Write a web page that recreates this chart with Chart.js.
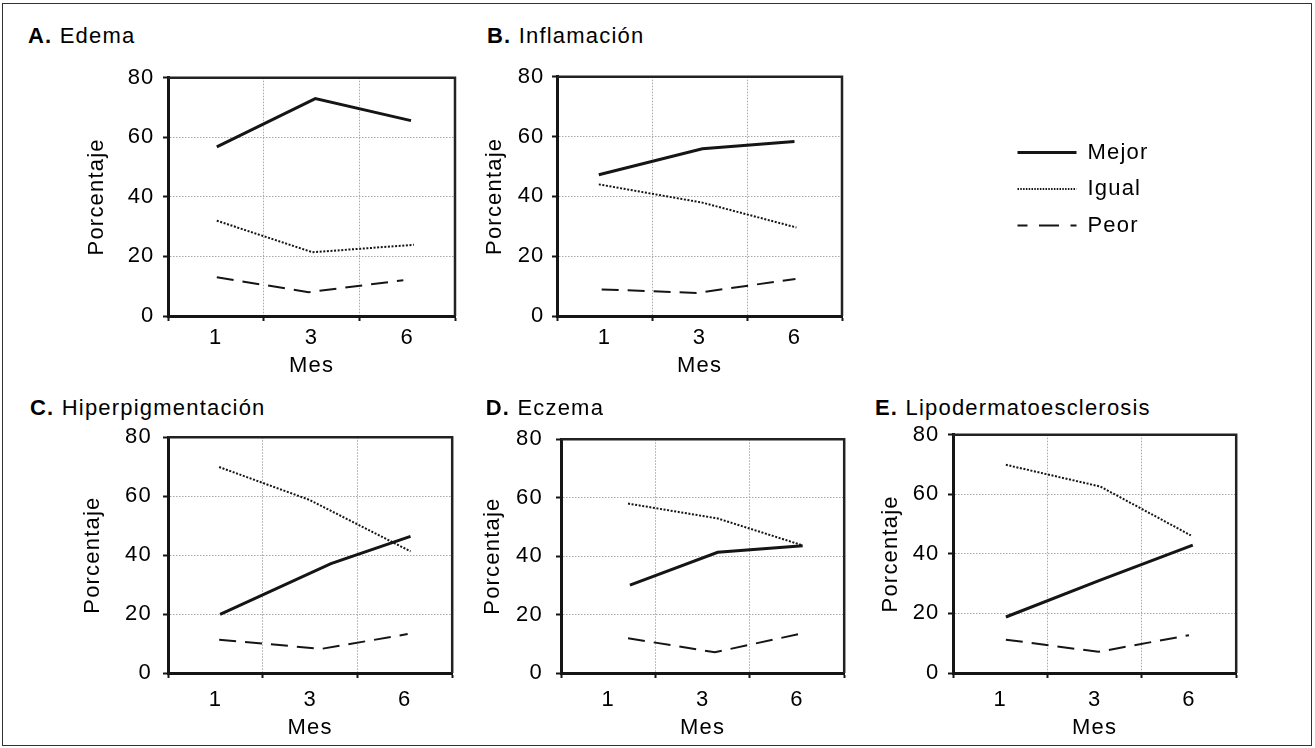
<!DOCTYPE html>
<html><head><meta charset="utf-8">
<script src="https://cdn.jsdelivr.net/npm/chart.js@4.4.1/dist/chart.umd.min.js"></script>
<style>
html,body{margin:0;padding:0;background:#fff;}
body{width:1315px;height:748px;position:relative;overflow:hidden;font-family:"Liberation Sans",Arial,Helvetica,sans-serif;}
.frame{position:absolute;left:2px;top:3px;width:1310px;height:743px;border:1px solid #333;box-sizing:border-box;}
.ttl{position:absolute;font-size:22px;line-height:22px;letter-spacing:1.2px;color:#000;white-space:nowrap;}
canvas{position:absolute;}
</style></head><body>
<div class="frame"></div>
<script>
// ---------- data ----------
const monthLabels = ['1', '3', '6'];
const yTickValues = [0, 20, 40, 60, 80];
const seriesNames = ['Mejor', 'Igual', 'Peor'];
const panelLetters = ['A.', 'B.', 'C.', 'D.', 'E.'];
const panelNames = ['Edema', 'Inflamación', 'Hiperpigmentación', 'Eczema', 'Lipodermatoesclerosis'];
const xAxisTitle = 'Mes';
const yAxisTitle = 'Porcentaje';

// x = position inside the month bands (0-1 = mes 1, 1-2 = mes 3, 2-3 = mes 6); values in %
const edemaMejorX = [0.51, 1.54, 2.54];   const edemaMejor = [56.8, 73.0, 65.6];
const edemaIgualX = [0.51, 1.51, 2.57];   const edemaIgual = [32.0, 21.4, 23.9];
const edemaPeorX  = [0.51, 1.47, 2.46];   const edemaPeor  = [13.0, 8.0, 12.0];

const inflamMejorX = [0.44, 1.53, 2.50];  const inflamMejor = [47.2, 55.9, 58.3];
const inflamIgualX = [0.44, 1.53, 2.52];  const inflamIgual = [44.0, 37.9, 29.6];
const inflamPeorX  = [0.47, 1.47, 2.51];  const inflamPeor  = [8.9, 7.7, 12.4];

const hiperMejorX = [0.55, 1.72, 2.56];   const hiperMejor = [19.9, 37.1, 46.4];
const hiperIgualX = [0.54, 1.49, 2.56];   const hiperIgual = [69.9, 58.8, 41.3];
const hiperPeorX  = [0.54, 1.62, 2.53];   const hiperPeor  = [11.3, 8.2, 13.2];

const eczemaMejorX = [0.73, 1.66, 2.56];  const eczemaMejor = [30.1, 41.3, 43.6];
const eczemaIgualX = [0.71, 1.66, 2.55];  const eczemaIgual = [58.0, 52.9, 43.8];
const eczemaPeorX  = [0.71, 1.63, 2.56];  const eczemaPeor  = [11.9, 7.1, 13.6];

const lipoMejorX = [0.56, 1.56, 2.54];    const lipoMejor = [18.8, 31.2, 42.9];
const lipoIgualX = [0.56, 1.56, 2.52];    const lipoIgual = [69.9, 62.6, 46.2];
const lipoPeorX  = [0.56, 1.54, 2.50];    const lipoPeor  = [11.2, 7.1, 12.7];

// ---------- styles / layout ----------
const FS = 22, HALF_LH = FS * 1.2 / 2, LS_PX = 1.2;
Chart.defaults.font.family = '"Liberation Sans", Arial, Helvetica, sans-serif';
Chart.defaults.font.size = FS;
Chart.defaults.color = '#000';

const INK = '#151515';
const seriesStyles = [
  {borderWidth: 3, borderDash: []},
  {borderWidth: 2, borderDash: [2, 1.6]},
  {borderWidth: 2, borderDash: [17, 9]}
];
const legendStyles = [
  {lineWidth: 3, lineDash: [], lineDashOffset: 0},
  {lineWidth: 2, lineDash: [1.5, 1.3], lineDashOffset: 0},
  {lineWidth: 2, lineDash: [20, 11.5], lineDashOffset: 10}
];

const rows = [
  {t: 76, b: 316, canvasBottom: 390, labelCenter: 337.5, titleCenter: 366, titleTop: 25.4},
  {t: 433, b: 673, canvasBottom: 746, labelCenter: 700, titleCenter: 728, titleTop: 397.4}
];

const panels = [
  {row: 0, l: 168, r: 455, titleX: 28,    yTitleX: 96.7,  yLabelRight: 153.3,
   series: [[edemaMejorX, edemaMejor], [edemaIgualX, edemaIgual], [edemaPeorX, edemaPeor]]},
  {row: 0, l: 557, r: 842, titleX: 487,   yTitleX: 495,   yLabelRight: 543.3,
   series: [[inflamMejorX, inflamMejor], [inflamIgualX, inflamIgual], [inflamPeorX, inflamPeor]]},
  {row: 1, l: 168, r: 455, titleX: 30,    yTitleX: 93.3,  yLabelRight: 150.7,
   series: [[hiperMejorX, hiperMejor], [hiperIgualX, hiperIgual], [hiperPeorX, hiperPeor]]},
  {row: 1, l: 561, r: 847, titleX: 485.7, yTitleX: 493.3, yLabelRight: 541.7,
   series: [[eczemaMejorX, eczemaMejor], [eczemaIgualX, eczemaIgual], [eczemaPeorX, eczemaPeor]]},
  {row: 1, l: 953, r: 1239, titleX: 875,  yTitleX: 890.8, yLabelRight: 938.3,
   series: [[lipoMejorX, lipoMejor], [lipoIgualX, lipoIgual], [lipoPeorX, lipoPeor]]}
];

const LS = LS_PX + 'px';
const spacingPlugin = {
  id: 'spacing',
  beforeUpdate(c) { c.ctx.letterSpacing = LS; },
  beforeLayout(c) { c.ctx.letterSpacing = LS; },
  beforeDraw(c) { c.ctx.letterSpacing = LS; }
};
const framePlugin = {
  id: 'frame',
  afterDatasetsDraw(c) {
    const {ctx, chartArea: a} = c;
    ctx.save();
    ctx.strokeStyle = '#222';
    ctx.lineWidth = 2.5;
    ctx.setLineDash([]);
    ctx.beginPath();
    ctx.moveTo(a.left, a.top);
    ctx.lineTo(a.right, a.top);
    ctx.lineTo(a.right, a.bottom);
    ctx.stroke();
    ctx.restore();
  }
};

function addCanvas(x, y, w, h) {
  const cv = document.createElement('canvas');
  cv.width = w; cv.height = h;
  cv.style.left = x + 'px'; cv.style.top = y + 'px';
  cv.style.width = w + 'px'; cv.style.height = h + 'px';
  document.body.appendChild(cv);
  return cv;
}

const TICK = 5;
function makePanel(p, idx) {
  const row = rows[p.row];
  const t = row.t, b = row.b;
  const cl = Math.round(p.l - 100), ct = t - 20;
  const cw = Math.round(p.r + 6 - cl), ch = row.canvasBottom - ct;
  const yAxisW = p.l - cl;
  const xAxisH = ch - (b - ct);
  const yTitlePad = (p.yTitleX - cl) - HALF_LH;
  const yTickPad = (p.l - TICK) - (p.yLabelRight + LS_PX);
  const xTickPad = row.labelCenter - b - TICK - HALF_LH;
  const xTitlePad = row.canvasBottom - row.titleCenter - HALF_LH;

  // title as real DOM text
  const d = document.createElement('div');
  d.className = 'ttl';
  d.style.left = p.titleX + 'px';
  d.style.top = row.titleTop + 'px';
  const bb = document.createElement('b'); bb.textContent = panelLetters[idx];
  d.appendChild(bb);
  d.appendChild(document.createTextNode(' ' + panelNames[idx]));
  document.body.appendChild(d);

  const nBands = monthLabels.length;
  const xTickVals = [];
  for (let i = 0; i <= nBands; i++) { xTickVals.push(i); if (i < nBands) xTickVals.push(i + 0.5); }
  const isBoundary = v => Number.isInteger(v);

  const cv = addCanvas(cl, ct, cw, ch);
  new Chart(cv, {
    type: 'line',
    data: {
      datasets: p.series.map((s, i) => ({
        label: seriesNames[i],
        data: s[0].map((x, j) => ({x: x, y: s[1][j]})),
        borderColor: INK,
        borderWidth: seriesStyles[i].borderWidth,
        borderDash: seriesStyles[i].borderDash,
        borderCapStyle: 'butt',
        borderJoinStyle: 'miter',
        pointRadius: 0,
        tension: 0,
        fill: false
      }))
    },
    options: {
      responsive: false, animation: false, devicePixelRatio: 1,
      layout: {padding: {left: 0, top: t - ct, right: (cl + cw) - p.r, bottom: 0}},
      plugins: {legend: {display: false}, tooltip: {enabled: false}},
      scales: {
        x: {
          type: 'linear', min: 0, max: nBands,
          afterBuildTicks: sc => { sc.ticks = xTickVals.map(v => ({value: v})); },
          afterFit: sc => { sc.height = xAxisH; },
          ticks: {
            autoSkip: false, maxRotation: 0, padding: xTickPad, color: '#000',
            callback: v => { const k = v - 0.5; return Number.isInteger(k) ? monthLabels[k] : ''; }
          },
          grid: {
            color: c => (c.tick && isBoundary(c.tick.value) && c.tick.value > 0 && c.tick.value < nBands) ? '#a8a8a8' : 'rgba(0,0,0,0)',
            tickColor: c => (c.tick && isBoundary(c.tick.value)) ? INK : 'rgba(0,0,0,0)',
            lineWidth: 1, tickLength: TICK, tickWidth: 2
          },
          border: {color: INK, width: 3, dash: [1.5, 1.5]},
          title: {display: true, text: xAxisTitle, color: '#000', font: {size: FS}, padding: {top: 0, bottom: xTitlePad}}
        },
        y: {
          min: 0, max: 80,
          afterBuildTicks: sc => { sc.ticks = yTickValues.map(v => ({value: v})); },
          afterFit: sc => { sc.width = yAxisW; },
          ticks: {padding: yTickPad, color: '#000'},
          grid: {
            color: c => (c.tick && c.tick.value > 0 && c.tick.value < 80) ? '#a8a8a8' : 'rgba(0,0,0,0)',
            tickColor: INK, lineWidth: 1, tickLength: TICK, tickWidth: 2
          },
          border: {color: INK, width: 3, dash: [1.5, 1.5]},
          title: {display: true, text: yAxisTitle, color: '#000', font: {size: FS}, padding: {top: yTitlePad, bottom: 0}}
        }
      }
    },
    plugins: [spacingPlugin, framePlugin]
  });
}
panels.forEach(makePanel);

// ---------- legend ----------
const LEG_PAD = 14.5;
const lcv = addCanvas(1017 - LEG_PAD, 152 - LEG_PAD - FS / 2, 420, 130);
new Chart(lcv, {
  type: 'line',
  data: {datasets: seriesNames.map(n => ({label: n, data: []}))},
  options: {
    responsive: false, animation: false, devicePixelRatio: 1,
    layout: {padding: 0},
    scales: {x: {display: false}, y: {display: false}},
    plugins: {
      tooltip: {enabled: false},
      legend: {
        display: true, position: 'left', align: 'start',
        labels: {
          usePointStyle: true, pointStyleWidth: 59, padding: LEG_PAD,
          font: {size: FS}, color: '#000',
          generateLabels: () => seriesNames.map((n, i) => ({
            text: n, strokeStyle: INK, fillStyle: INK, fontColor: '#000',
            lineWidth: legendStyles[i].lineWidth, lineDash: legendStyles[i].lineDash,
            lineDashOffset: legendStyles[i].lineDashOffset, lineCap: 'butt',
            pointStyle: 'line', hidden: false, datasetIndex: i
          }))
        }
      }
    }
  },
  plugins: [spacingPlugin]
});
</script>
</body></html>
